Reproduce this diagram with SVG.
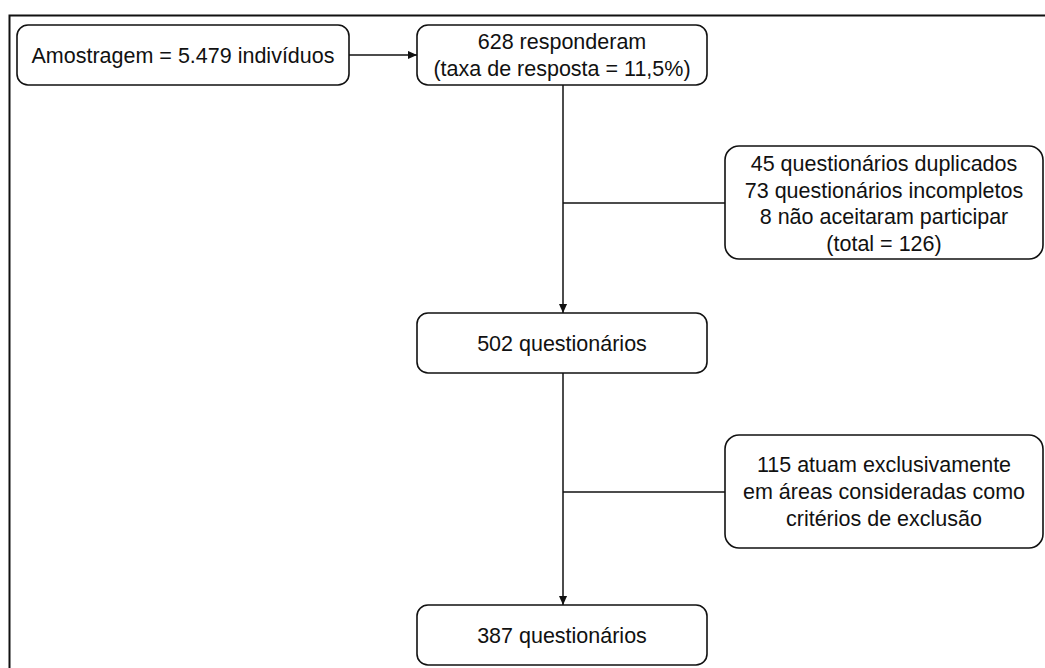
<svg xmlns="http://www.w3.org/2000/svg" width="1045" height="668" viewBox="0 0 1045 668">
<defs>
<style>
.box{fill:#fff;stroke:#111;stroke-width:1.6}
.lbl{font-family:"Liberation Sans",Arial,sans-serif;font-size:21.5px;fill:#111;text-anchor:middle}
.ln{fill:none;stroke:#111;stroke-width:1.5}
</style>
<marker id="ah" viewBox="0 0 10 10" refX="10" refY="5" markerWidth="9" markerHeight="9" markerUnits="userSpaceOnUse" orient="auto">
<path d="M0,0.5 L10,5 L0,9.5 z" fill="#111"/>
</marker>
</defs>
<rect width="1045" height="668" fill="#fff"/>
<rect x="9.5" y="15.5" width="1060" height="680" fill="none" stroke="#111" stroke-width="2"/>
<g id="connectors">
<line class="ln" x1="349" y1="55" x2="417" y2="55" marker-end="url(#ah)"/>
<line class="ln" x1="563" y1="85" x2="563" y2="313" marker-end="url(#ah)"/>
<line class="ln" x1="563" y1="203" x2="725" y2="203"/>
<line class="ln" x1="563" y1="373" x2="563" y2="605" marker-end="url(#ah)"/>
<line class="ln" x1="563" y1="492" x2="725" y2="492"/>
</g>
<g id="n1">
<rect class="box" x="17" y="25" width="332" height="60" rx="11"/>
<text class="lbl" x="183" y="62.5">Amostragem = 5.479 indivíduos</text>
</g>
<g id="n2">
<rect class="box" x="417" y="25" width="290" height="60" rx="11"/>
<text class="lbl" x="562" y="49">628 responderam</text>
<text class="lbl" x="562" y="76">(taxa de resposta = 11,5%)</text>
</g>
<g id="n3">
<rect class="box" x="725" y="146" width="318" height="113" rx="14"/>
<text class="lbl" x="884" y="171">45 questionários duplicados</text>
<text class="lbl" x="884" y="197.5">73 questionários incompletos</text>
<text class="lbl" x="884" y="224">8 não aceitaram participar</text>
<text class="lbl" x="884" y="250.5">(total = 126)</text>
</g>
<g id="n4">
<rect class="box" x="417" y="313" width="290" height="60" rx="11"/>
<text class="lbl" x="562" y="350.5">502 questionários</text>
</g>
<g id="n5">
<rect class="box" x="725" y="435" width="318" height="113" rx="14"/>
<text class="lbl" x="884" y="472">115 atuam exclusivamente</text>
<text class="lbl" x="884" y="499">em áreas consideradas como</text>
<text class="lbl" x="884" y="526">critérios de exclusão</text>
</g>
<g id="n6">
<rect class="box" x="417" y="605" width="290" height="60" rx="11"/>
<text class="lbl" x="562" y="642.5">387 questionários</text>
</g>
</svg>
